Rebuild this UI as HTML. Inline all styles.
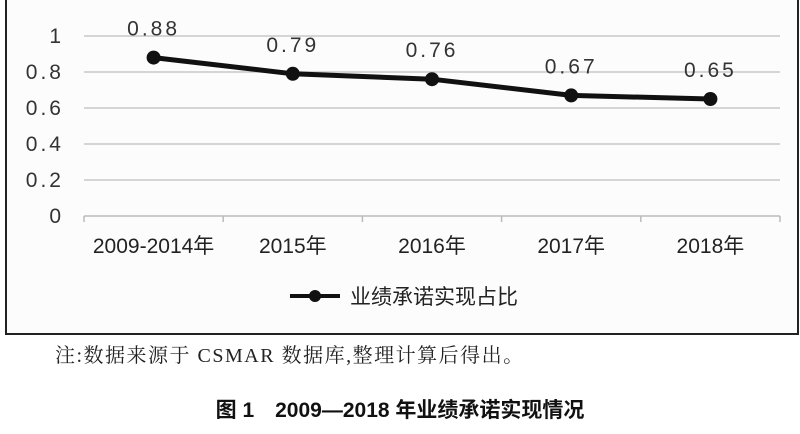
<!DOCTYPE html>
<html><head><meta charset="utf-8"><style>
body{margin:0;width:800px;height:434px;background:#fff;overflow:hidden;font-family:"Liberation Sans","Noto Sans CJK SC",sans-serif}
svg{display:block}
</style></head><body>
<svg width="800" height="434">
<rect x="0" y="0" width="800" height="434" fill="#fff"/>
<rect x="6" y="-5" width="792" height="339" fill="#fcfcfc" stroke="#222" stroke-width="2"/>
<g id="grid"></g><g id="axis"></g><g id="series"></g><g id="labels"></g>
<g>
<line x1="290" y1="296" x2="340" y2="296" stroke="#111" stroke-width="4"/>
<circle cx="315" cy="296" r="6" fill="#111"/>
<text x="350" y="304" font-size="21" fill="#222" font-family="Liberation Sans,Noto Sans CJK SC,sans-serif">业绩承诺实现占比</text>
</g>
<text x="55" y="362" font-size="20" letter-spacing="1.5" fill="#222" font-family="Liberation Serif,Noto Serif CJK SC,serif">注:数据来源于 CSMAR 数据库,整理计算后得出。</text>
<text x="400" y="417" font-size="21" font-weight="bold" fill="#111" text-anchor="middle" font-family="Liberation Sans,Noto Sans CJK SC,sans-serif">图 1　2009—2018 年业绩承诺实现情况</text>
</svg>
<script>
const categories=["2009-2014年","2015年","2016年","2017年","2018年"];
const values=[0.88,0.79,0.76,0.67,0.65];
const valueLabels=["0.88","0.79","0.76","0.67","0.65"];
const yTicks=[0,0.2,0.4,0.6,0.8,1];
const yTickLabels=["0","0.2","0.4","0.6","0.8","1"];
const NS="http://www.w3.org/2000/svg";
const x0=84,x1=780,yb=216,yt=36;
const bw=(x1-x0)/categories.length;
const xs=i=>x0+bw*(i+0.5);
const ys=v=>yb-(v/1)*(yb-yt);
function mk(t,a,p){const e=document.createElementNS(NS,t);for(const k in a)e.setAttribute(k,a[k]);p.appendChild(e);return e;}
const grid=document.getElementById('grid'),axis=document.getElementById('axis'),series=document.getElementById('series'),labels=document.getElementById('labels');
yTicks.forEach((v,i)=>{
 if(v>0){const g=mk('line',{x1:x0,x2:x1,y1:ys(v),y2:ys(v),stroke:'#c8c8c8','stroke-width':1.5},grid);
 
 }
 const t=mk('text',{x:64,y:ys(v)+7,'text-anchor':'end','font-size':21,'letter-spacing':3,fill:'#333','font-family':'Liberation Sans,sans-serif'},axis);
 t.textContent=yTickLabels[i];
 
 
});
const ax=mk('line',{x1:x0,x2:x1,y1:yb,y2:yb,stroke:'#bbb','stroke-width':1.5},axis);


for(let i=0;i<=categories.length;i++){
 const tk=mk('line',{x1:x0+bw*i,x2:x0+bw*i,y1:yb,y2:yb+6,stroke:'#bbb','stroke-width':1.5},axis);
 
 
}
categories.forEach((c,i)=>{
 const t=mk('text',{x:xs(i),y:253,'text-anchor':'middle','font-size':21,fill:'#222','font-family':'Liberation Sans,Noto Sans CJK SC,sans-serif'},axis);
 t.textContent=c;
 
 
});
const pl=mk('polyline',{points:values.map((v,i)=>xs(i)+','+ys(v)).join(' '),fill:'none',stroke:'#111','stroke-width':5,'stroke-linejoin':'round'},series);


values.forEach((v,i)=>{
 const c=mk('circle',{cx:xs(i),cy:ys(v),r:7,fill:'#111'},series);
 
 
 const t=mk('text',{x:xs(i),y:ys(v)-22,'text-anchor':'middle','font-size':21,'letter-spacing':3,fill:'#333','font-family':'Liberation Sans,sans-serif'},labels);
 t.textContent=valueLabels[i];
 
 
});
</script>
</body></html>
